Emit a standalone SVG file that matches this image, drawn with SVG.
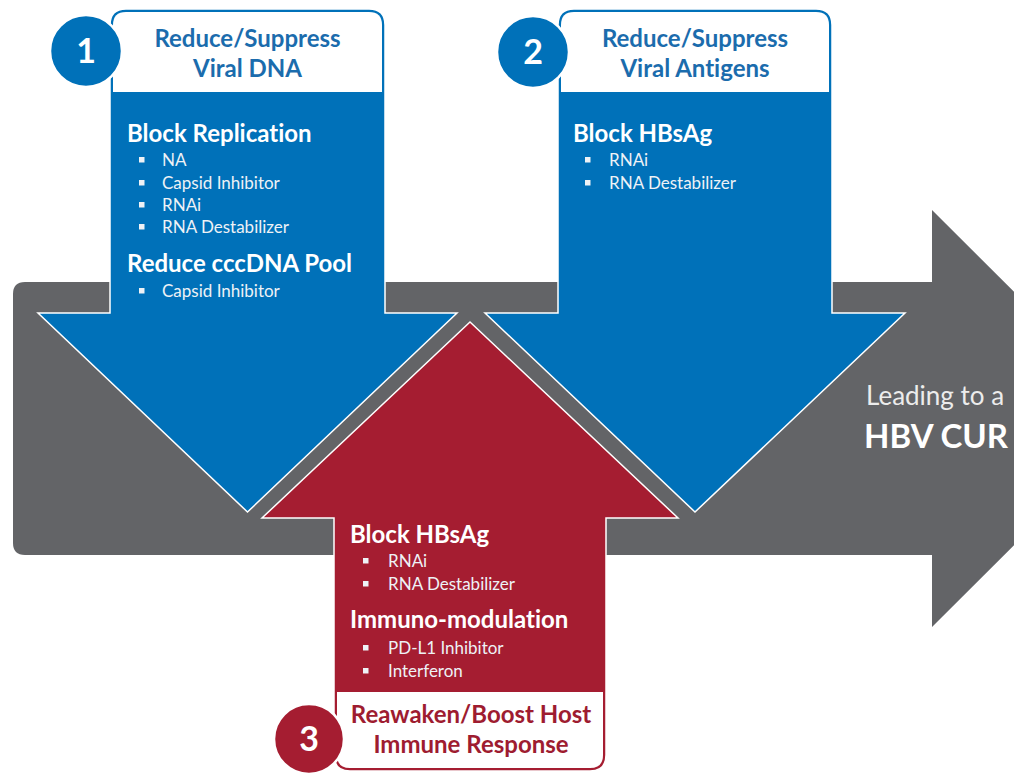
<svg xmlns="http://www.w3.org/2000/svg" width="1014" height="773" viewBox="0 0 1014 773">
<style>
text{font-variant-ligatures:none;font-feature-settings:"liga" 0}
.h{font-family:Lato,"Open Sans",sans-serif;font-weight:700;font-size:24px}
.b{font-family:Lato,"Open Sans",sans-serif;font-weight:400;font-size:17px;fill:#eef2f6}
.w{fill:#ffffff}
.blue{fill:#0071b9;stroke:#ffffff;stroke-width:1.5}
.red{fill:#a51d31;stroke:#ffffff;stroke-width:1.5}
.num{font-family:Lato,"Open Sans",sans-serif;font-weight:700;font-size:34px;fill:#ffffff;text-anchor:middle}
.bt{fill:#1b6cad;text-anchor:middle}
.rt{fill:#9e1c30;text-anchor:middle}
.sq{fill:#eef2f6}
</style>
<rect width="1014" height="773" fill="#ffffff"/>
<g id="cure-arrow">
<path d="M13,294 Q13,282 25,282 L932,282 L932,210 L1141,418.5 L932,627 L932,555 L25,555 Q13,555 13,543 Z" fill="#636467"/>
<text x="866" y="405" style="font-family:Lato,'Open Sans',sans-serif;font-size:26px;fill:#ececec">Leading to a</text>
<text x="864" y="448" style="font-family:Lato,'Open Sans',sans-serif;font-size:33px;font-weight:700;fill:#ffffff">HBV CUR</text>
</g>
<g id="connectors"></g>
<g id="node1">
<path class="blue" d="M110,25 Q110,9 126,9 L369,9 Q385,9 385,25 L385,313 L457,313 L247.5,512 L38,313 L110,313 Z"/>
<path d="M113,92 L113,25 Q113,12 126,12 L369,12 Q382,12 382,25 L382,92 Z" fill="#ffffff"/>
<text class="h bt" x="247.5" y="47">Reduce/Suppress</text>
<text class="h bt" x="247.5" y="77">Viral DNA</text>
<text class="h w" x="127" y="142">Block Replication</text>
<rect class="sq" x="139" y="157" width="5.5" height="5.5"/>
<text class="b" x="162" y="166">NA</text>
<rect class="sq" x="139" y="180" width="5.5" height="5.5"/>
<text class="b" x="162" y="189">Capsid Inhibitor</text>
<rect class="sq" x="139" y="202" width="5.5" height="5.5"/>
<text class="b" x="162" y="211">RNAi</text>
<rect class="sq" x="139" y="224" width="5.5" height="5.5"/>
<text class="b" x="162" y="233">RNA Destabilizer</text>
<text class="h w" x="127" y="272">Reduce cccDNA Pool</text>
<rect class="sq" x="139" y="288" width="5.5" height="5.5"/>
<text class="b" x="162" y="297">Capsid Inhibitor</text>
<circle cx="86" cy="51" r="36" fill="#0071b9" stroke="#ffffff" stroke-width="2.5"/>
<text class="num" x="86" y="63">1</text>
</g>
<g id="node2">
<path class="blue" d="M558,25 Q558,9 574,9 L816,9 Q832,9 832,25 L832,313 L905,313 L695,512 L485,313 L558,313 Z"/>
<path d="M561,92 L561,25 Q561,12 574,12 L816,12 Q829,12 829,25 L829,92 Z" fill="#ffffff"/>
<text class="h bt" x="695" y="47">Reduce/Suppress</text>
<text class="h bt" x="695" y="77">Viral Antigens</text>
<text class="h w" x="573" y="142">Block HBsAg</text>
<rect class="sq" x="585" y="157" width="5.5" height="5.5"/>
<text class="b" x="609" y="166">RNAi</text>
<rect class="sq" x="585" y="180" width="5.5" height="5.5"/>
<text class="b" x="609" y="189">RNA Destabilizer</text>
<circle cx="533" cy="52" r="36" fill="#0071b9" stroke="#ffffff" stroke-width="2.5"/>
<text class="num" x="533" y="64">2</text>
</g>
<g id="node3">
<path class="red" d="M470,322 L678,518 L606,518 L606,755 Q606,771 590,771 L350,771 Q334,771 334,755 L334,518 L262,518 Z"/>
<path d="M337,692 L603,692 L603,755 Q603,768 590,768 L350,768 Q337,768 337,755 Z" fill="#ffffff"/>
<text class="h w" x="350" y="543">Block HBsAg</text>
<rect class="sq" x="363" y="558" width="5.5" height="5.5"/>
<text class="b" x="388" y="567">RNAi</text>
<rect class="sq" x="363" y="581" width="5.5" height="5.5"/>
<text class="b" x="388" y="590">RNA Destabilizer</text>
<text class="h w" x="350" y="628">Immuno-modulation</text>
<rect class="sq" x="363" y="645" width="5.5" height="5.5"/>
<text class="b" x="388" y="654">PD-L1 Inhibitor</text>
<rect class="sq" x="363" y="668" width="5.5" height="5.5"/>
<text class="b" x="388" y="677">Interferon</text>
<text class="h rt" x="471" y="723">Reawaken/Boost Host</text>
<text class="h rt" x="471" y="753">Immune Response</text>
<circle cx="309" cy="739" r="35" fill="#a51d31" stroke="#ffffff" stroke-width="2.5"/>
<text class="num" x="309" y="751">3</text>
</g>
</svg>
